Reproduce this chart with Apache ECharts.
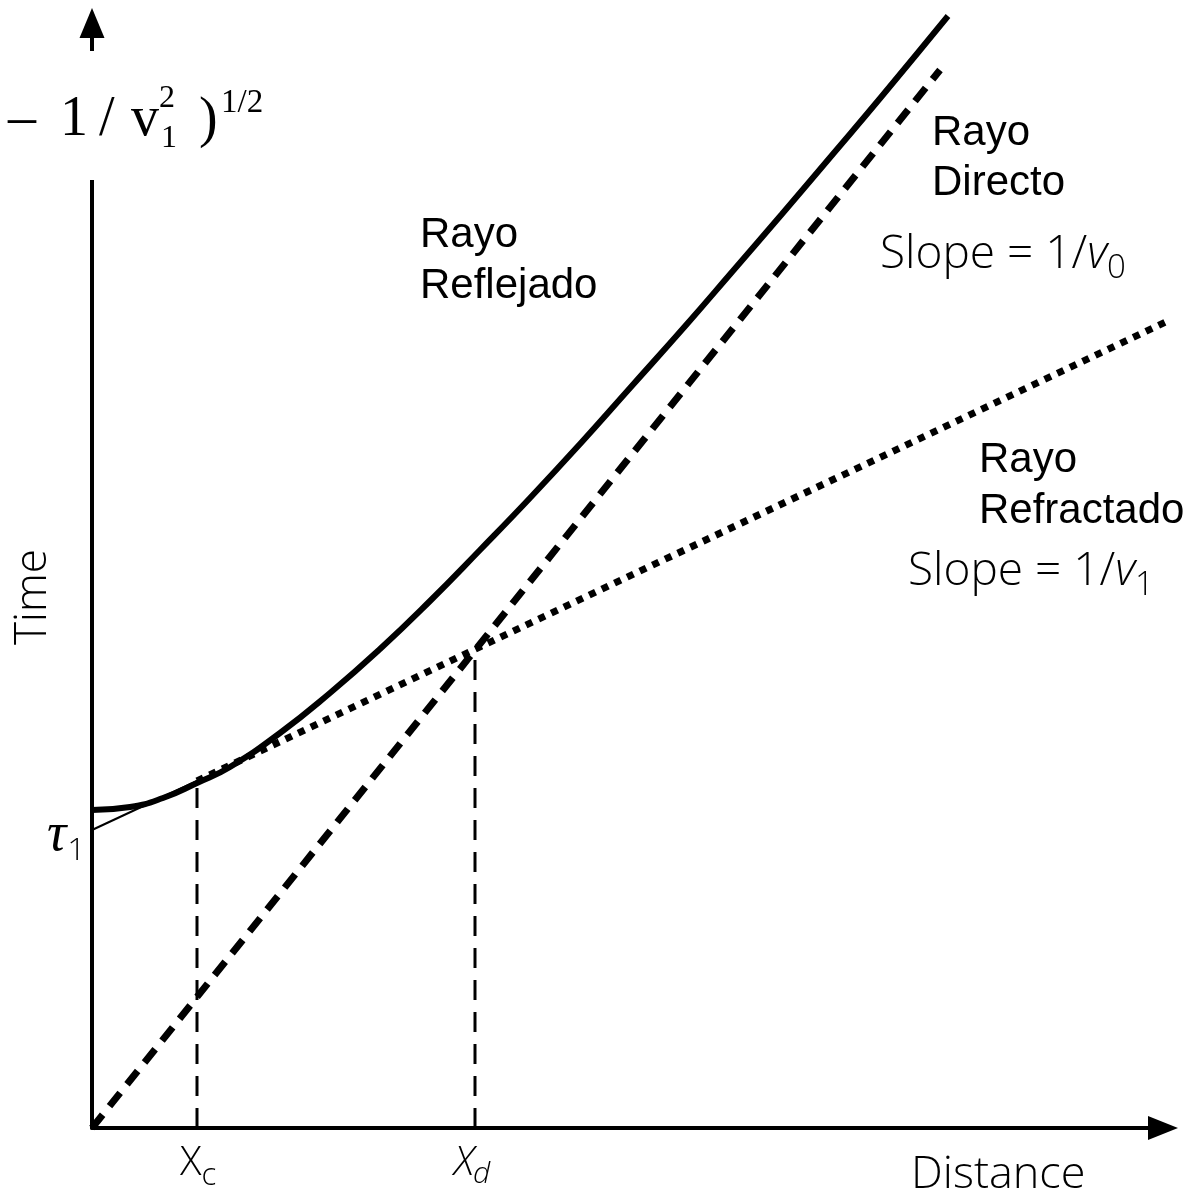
<!DOCTYPE html>
<html><head><meta charset="utf-8">
<script src="https://cdn.jsdelivr.net/npm/echarts@6/dist/echarts.min.js"></script>
<style>html,body{margin:0;padding:0;background:#fff}#c{width:1192px;height:1193px}</style>
</head><body><div id="c"></div>
<script>
// ---- data (distance, time) ----
const directRay = [[0, 0], [848, 1058]];
const refractedTangent = [[0, 298], [105, 347]];
const refractedRay = [[105, 347], [1078, 808]];
const reflectedRay = [[0, 318], [38, 321], [71, 330], [105, 345], [138, 361], [188, 395], [238, 435], [288, 479], [338, 527], [388, 578], [438, 630], [488, 684], [538, 740], [595, 804], [640, 856], [690, 914], [741, 974], [790, 1032], [856, 1112]];
const xcValue = 105;
const xdValue = 383;
const tauValue = 298;
const xcLine = [[105, 0], [105, 347]];
const xdLine = [[383, 0], [383, 478]];

const SANS = '"Open Sans", "Noto Sans", sans-serif';
const ARIAL = '"Liberation Sans", Arial, sans-serif';
const SERIF = '"Liberation Serif", "Times New Roman", serif';

const cv = document.createElement('canvas').getContext('2d');
function midOff(font) {
  cv.font = font; cv.textBaseline = 'middle';
  const m = cv.measureText('Hx');
  return Math.abs(m.alphabeticBaseline || 0);
}
function width(text, font) { cv.font = font; return cv.measureText(text).width; }
function tx(text, x, baseline, font, extra) {
  const y = baseline - midOff(font);
  return Object.assign({
    type: 'text', z: 100,
    style: { text: text, x: x, y: y, font: font, fill: '#000', align: 'left', verticalAlign: 'middle', textAlign: 'left', textVerticalAlign: 'middle' }
  }, extra || {});
}
function seq(parts, x, baseline) {
  const out = [];
  let cx = x;
  parts.forEach(p => {
    out.push(tx(p.t, cx + (p.dx || 0), baseline + (p.dy || 0), p.f));
    cx += width(p.t, p.f) + (p.dx || 0);
  });
  return out;
}

const chart = echarts.init(document.getElementById('c'), null, { renderer: 'canvas' });
const axisCommon = {
  type: 'value', min: 0,
  axisLabel: { show: false }, axisTick: { show: false }, splitLine: { show: false }
};
const blk = '#000';
chart.setOption({
  backgroundColor: '#fff',
  animation: false,
  grid: { left: 92, right: 29, top: 23, bottom: 65 },
  xAxis: Object.assign({}, axisCommon, {
    max: 1071,
    axisLine: { show: true, onZero: false, symbol: ['none', 'triangle'], symbolSize: [24, 30], lineStyle: { color: blk, width: 4 } }
  }),
  yAxis: Object.assign({}, axisCommon, {
    max: 1105,
    axisLine: { show: true, onZero: false, symbol: ['none', 'triangle'], symbolSize: [25, 30], lineStyle: { color: blk, width: 4 } }
  }),
  series: [
    { name: 'Rayo Directo', type: 'line', data: directRay, showSymbol: false, clip: false,
      lineStyle: { color: blk, width: 7, type: [17, 11], cap: 'butt' } },
    { name: 'tangente', type: 'line', data: refractedTangent, showSymbol: false,
      lineStyle: { color: blk, width: 2 } },
    { name: 'Rayo Refractado', type: 'line', data: refractedRay, showSymbol: false, clip: false,
      lineStyle: { color: blk, width: 7, type: [7, 7], cap: 'butt' } },
    { name: 'Rayo Reflejado', type: 'line', data: reflectedRay, showSymbol: false, smooth: 0.5, clip: false,
      lineStyle: { color: blk, width: 6 } },
    { name: 'xc', type: 'line', data: xcLine, showSymbol: false,
      lineStyle: { color: blk, width: 3, type: [20, 12], cap: 'butt' } },
    { name: 'xd', type: 'line', data: xdLine, showSymbol: false,
      lineStyle: { color: blk, width: 3, type: [20, 12], cap: 'butt' } }
  ]
});

const pxc = chart.convertToPixel({ gridIndex: 0 }, [xcValue, 0]);
const pxd = chart.convertToPixel({ gridIndex: 0 }, [xdValue, 0]);
const ptau = chart.convertToPixel({ gridIndex: 0 }, [0, tauValue]);

const F = (s, fam, style, w) => (style || 'normal') + ' ' + (w || 'normal') + ' ' + s + 'px ' + fam;
const g = [];
// gap in y axis
g.push({ type: 'rect', z: 99, shape: { x: 84, y: 51, width: 16, height: 129 }, style: { fill: '#fff' } });
// top formula
const TF = F(56, SERIF);
g.push(tx('\u2013', 8, 135, TF));
g.push(tx('1', 60, 135, TF));
g.push(tx('/', 99, 135, TF));
g.push(tx('v', 131, 135, TF));
g.push(tx('2', 159, 107, F(32, SERIF)));
g.push(tx('1', 161, 147, F(32, SERIF)));
g.push(tx(')', 199, 136, TF));
g.push(tx('1/2', 221, 112, F(33, SERIF)));
// axis names
g.push({ type: 'text', z: 100, x: 33, y: 597, rotation: Math.PI / 2,
  style: { text: 'Time', x: 0, y: 0, font: F(44, SANS, 'normal', 300), fill: blk, align: 'center', verticalAlign: 'middle', textAlign: 'center', textVerticalAlign: 'middle' } });
g.push(tx('Distance', 911, 1188, F(45, SANS, 'normal', 300)));
// xc, xd, tau
g.push(...seq([{ t: 'X', f: F(40, SANS, 'normal', 300) }, { t: 'c', f: F(31, SANS, 'normal', 300), dy: 10 }], pxc[0] - 17, 1175));
g.push(...seq([{ t: 'X', f: F(40, SANS, 'italic', 300) }, { t: 'd', f: F(30, SANS, 'italic', 300), dy: 8, dx: -1 }], pxd[0] - 21, 1175));
g.push(...seq([{ t: '\u03C4', f: F(54, SERIF, 'italic') }, { t: '1', f: F(32, SANS, 'normal', 300), dy: 10, dx: 1 }], ptau[0] - 45, ptau[1] + 20));
// labels
const AR = F(42, ARIAL);
g.push(tx('Rayo', 932, 145, AR));
g.push(tx('Directo', 932, 195, AR));
g.push(tx('Rayo', 420, 247, AR));
g.push(tx('Reflejado', 420, 298, AR));
g.push(tx('Rayo', 979, 472, AR));
g.push(tx('Refractado', 979, 523, AR));
const SL = F(46, SANS, 'normal', 300);
g.push(...seq([{ t: 'Slope = 1/', f: SL }, { t: 'v', f: F(46, SANS, 'italic', 300) }, { t: '0', f: F(33, SANS, 'normal', 300), dy: 10 }], 880, 268));
g.push(...seq([{ t: 'Slope = 1/', f: SL }, { t: 'v', f: F(46, SANS, 'italic', 300) }, { t: '1', f: F(33, SANS, 'normal', 300), dy: 10 }], 908, 585));
chart.setOption({ graphic: g });
</script></body></html>
